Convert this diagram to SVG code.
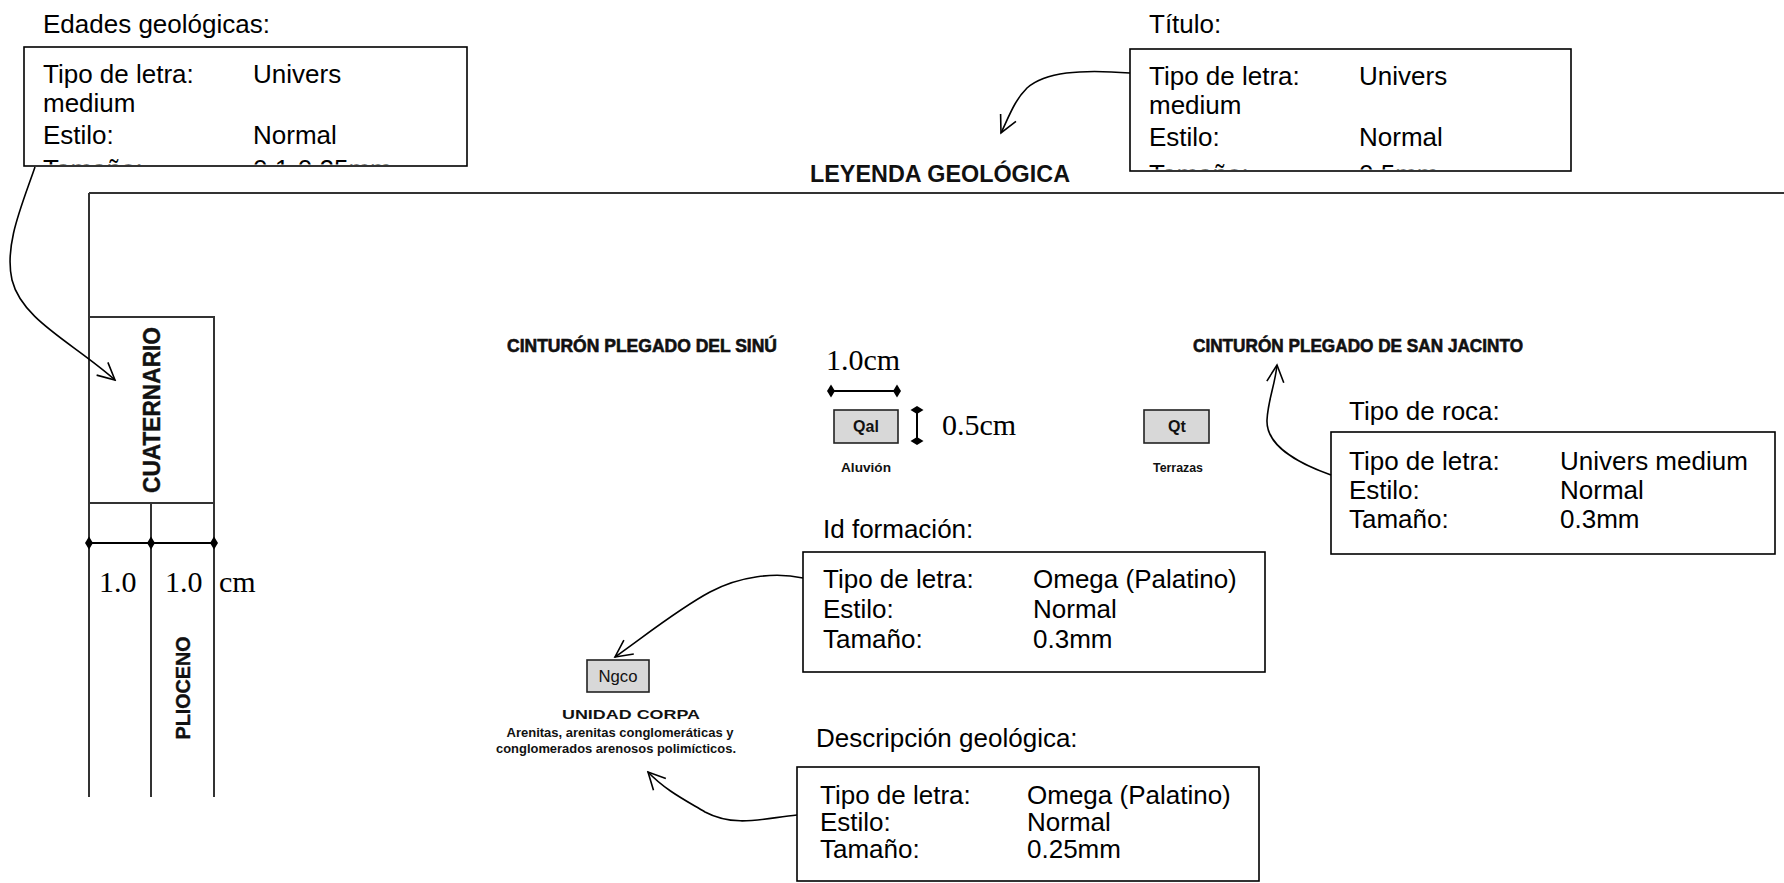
<svg xmlns="http://www.w3.org/2000/svg" width="1784" height="883" viewBox="0 0 1784 883">
<style>
.t{font-family:"Liberation Sans",Arial,sans-serif;font-size:26px;fill:#000}
.box{fill:#fff;stroke:#000;stroke-width:1.6}
.frame{fill:none;stroke:#333;stroke-width:2}
.dim{font-family:"Liberation Serif","Times New Roman",serif;font-size:30px;fill:#000}
.hdr{font-family:"Liberation Sans",Arial,sans-serif;font-weight:bold;font-size:17.5px;fill:#111;stroke:#111;stroke-width:0.6}
.age{font-family:"Liberation Sans",Arial,sans-serif;font-weight:bold;fill:#111;stroke:#111;stroke-width:0.4}
.unit{fill:#d8d8d8;stroke:#222;stroke-width:1.6}
.code{font-family:"Liberation Sans",Arial,sans-serif;font-weight:bold;font-size:16px;fill:#111;text-anchor:middle}
.small{font-family:"Liberation Sans",Arial,sans-serif;font-weight:bold;font-size:13px;fill:#111}
.desc{font-family:"Liberation Sans",Arial,sans-serif;font-weight:bold;font-size:12.5px;fill:#111;text-anchor:middle}
.conn{fill:none;stroke:#000;stroke-width:1.6;marker-end:url(#arr)}
.dl{fill:none;stroke:#000;stroke-width:2;marker-start:url(#dia);marker-mid:url(#dia);marker-end:url(#dia)}
</style>
<defs>
<marker id="arr" viewBox="0 0 22 22" refX="20" refY="11" markerWidth="22" markerHeight="22" markerUnits="userSpaceOnUse" orient="auto">
<path d="M3,2.5 L20,11 L3,19.5" fill="none" stroke="#000" stroke-width="1.6"/>
</marker>
<marker id="dia" viewBox="-7 -7 14 14" refX="0" refY="0" markerWidth="14" markerHeight="14" markerUnits="userSpaceOnUse" orient="auto">
<path d="M-4,0 L0,-6.5 L4,0 L0,6.5Z" fill="#000"/>
</marker>
<clipPath id="c1"><rect x="25" y="48" width="441" height="116.5"/></clipPath>
<clipPath id="c2"><rect x="1131" y="50" width="439" height="119.5"/></clipPath>
</defs>
<rect width="1784" height="883" fill="#fff"/>

<g id="frame">
<line class="frame" x1="89" y1="193" x2="1784" y2="193"/>
<line class="frame" x1="89" y1="193" x2="89" y2="797"/>
</g>

<g id="title">
<text x="810" y="182" font-family="Liberation Sans, Arial, sans-serif" font-weight="bold" font-size="23" fill="#111" textLength="260" lengthAdjust="spacingAndGlyphs">LEYENDA GEOLÓGICA</text>
</g>

<g id="edades-box">
<text class="t" x="43" y="33">Edades geológicas:</text>
<rect class="box" x="24" y="47" width="443" height="119"/>
<g clip-path="url(#c1)">
<text class="t" x="43" y="83">Tipo de letra:</text><text class="t" x="253" y="83">Univers</text>
<text class="t" x="43" y="112">medium</text>
<text class="t" x="43" y="144">Estilo:</text><text class="t" x="253" y="144">Normal</text>
<text class="t" x="43" y="178">Tamaño:</text><text class="t" x="253" y="178">0.1-0.25mm</text>
</g>
</g>

<g id="titulo-box">
<text class="t" x="1149" y="33">Título:</text>
<rect class="box" x="1130" y="49" width="441" height="122"/>
<g clip-path="url(#c2)">
<text class="t" x="1149" y="85">Tipo de letra:</text><text class="t" x="1359" y="85">Univers</text>
<text class="t" x="1149" y="114">medium</text>
<text class="t" x="1149" y="146">Estilo:</text><text class="t" x="1359" y="146">Normal</text>
<text class="t" x="1149" y="183">Tamaño:</text><text class="t" x="1359" y="183">0.5mm</text>
</g>
</g>

<g id="cuaternario">
<rect x="89" y="317" width="125" height="186" fill="none" stroke="#333" stroke-width="2"/>
<text class="age" font-size="24" transform="translate(160,410) rotate(-90)" text-anchor="middle" textLength="166" lengthAdjust="spacingAndGlyphs">CUATERNARIO</text>
</g>

<g id="plioceno">
<line x1="151" y1="503" x2="151" y2="797" stroke="#333" stroke-width="2"/>
<line x1="214" y1="503" x2="214" y2="797" stroke="#333" stroke-width="2"/>
<text class="age" font-size="21" transform="translate(190,688) rotate(-90)" text-anchor="middle" textLength="103" lengthAdjust="spacingAndGlyphs">PLIOCENO</text>
</g>

<g id="col-dimension">
<polyline class="dl" points="89,543 151,543 214,543"/>
<text class="dim" x="99" y="592">1.0</text>
<text class="dim" x="165" y="592">1.0</text>
<text class="dim" x="219" y="592">cm</text>
</g>

<g id="sinu-header">
<text class="hdr" x="507" y="352" textLength="270" lengthAdjust="spacingAndGlyphs">CINTURÓN PLEGADO DEL SINÚ</text>
</g>

<g id="sanjacinto-header">
<text class="hdr" x="1193" y="352" textLength="330" lengthAdjust="spacingAndGlyphs">CINTURÓN PLEGADO DE SAN JACINTO</text>
</g>

<g id="qal">
<rect class="unit" x="834" y="410" width="64" height="33"/>
<text class="code" x="866" y="432">Qal</text>
<text class="small" x="841" y="472" textLength="50" lengthAdjust="spacingAndGlyphs">Aluvión</text>
</g>

<g id="qal-dimensions">
<line class="dl" x1="831" y1="391" x2="897" y2="391"/>
<text class="dim" x="826" y="370">1.0cm</text>
<line class="dl" x1="917" y1="410" x2="917" y2="441"/>
<text class="dim" x="942" y="435">0.5cm</text>
</g>

<g id="qt">
<rect class="unit" x="1144" y="410" width="65" height="33"/>
<text class="code" x="1177" y="432">Qt</text>
<text class="small" x="1153" y="472" textLength="50" lengthAdjust="spacingAndGlyphs">Terrazas</text>
</g>

<g id="roca-box">
<text class="t" x="1349" y="420">Tipo de roca:</text>
<rect class="box" x="1331" y="432" width="444" height="122"/>
<text class="t" x="1349" y="470">Tipo de letra:</text><text class="t" x="1560" y="470">Univers medium</text>
<text class="t" x="1349" y="499">Estilo:</text><text class="t" x="1560" y="499">Normal</text>
<text class="t" x="1349" y="528">Tamaño:</text><text class="t" x="1560" y="528">0.3mm</text>
</g>

<g id="idformacion-box">
<text class="t" x="823" y="538">Id formación:</text>
<rect class="box" x="803" y="552" width="462" height="120"/>
<text class="t" x="823" y="588">Tipo de letra:</text><text class="t" x="1033" y="588">Omega (Palatino)</text>
<text class="t" x="823" y="618">Estilo:</text><text class="t" x="1033" y="618">Normal</text>
<text class="t" x="823" y="648">Tamaño:</text><text class="t" x="1033" y="648">0.3mm</text>
</g>

<g id="ngco">
<rect class="unit" x="587" y="660" width="62" height="32"/>
<text x="618" y="682" font-family="Liberation Sans, Arial, sans-serif" font-size="16" fill="#111" text-anchor="middle" textLength="39" lengthAdjust="spacingAndGlyphs">Ngco</text>
<text class="desc" x="631" y="719" font-size="14" textLength="138" lengthAdjust="spacingAndGlyphs">UNIDAD CORPA</text>
<text class="desc" x="620" y="737" textLength="227" lengthAdjust="spacingAndGlyphs">Arenitas, arenitas conglomeráticas y</text>
<text class="desc" x="616" y="753" textLength="240" lengthAdjust="spacingAndGlyphs">conglomerados arenosos polimícticos.</text>
</g>

<g id="descripcion-box">
<text class="t" x="816" y="747">Descripción geológica:</text>
<rect class="box" x="797" y="767" width="462" height="114"/>
<text class="t" x="820" y="804">Tipo de letra:</text><text class="t" x="1027" y="804">Omega (Palatino)</text>
<text class="t" x="820" y="831">Estilo:</text><text class="t" x="1027" y="831">Normal</text>
<text class="t" x="820" y="858">Tamaño:</text><text class="t" x="1027" y="858">0.25mm</text>
</g>

<g id="connectors">
<path class="conn" d="M35,167 C22,205 4,245 12,280 C22,320 72,342 115,380"/>
<path class="conn" d="M1130,73 C1080,69 1045,72 1027,88 C1015,100 1010,114 1001,133"/>
<path class="conn" d="M1331,475 C1295,462 1266,445 1267,420 C1268,400 1275,385 1277,365"/>
<path class="conn" d="M803,578 C775,572 740,576 710,592 C680,608 650,632 615,657"/>
<path class="conn" d="M797,815 C765,818 735,828 705,812 C685,800 665,790 648,772"/>
</g>
</svg>
